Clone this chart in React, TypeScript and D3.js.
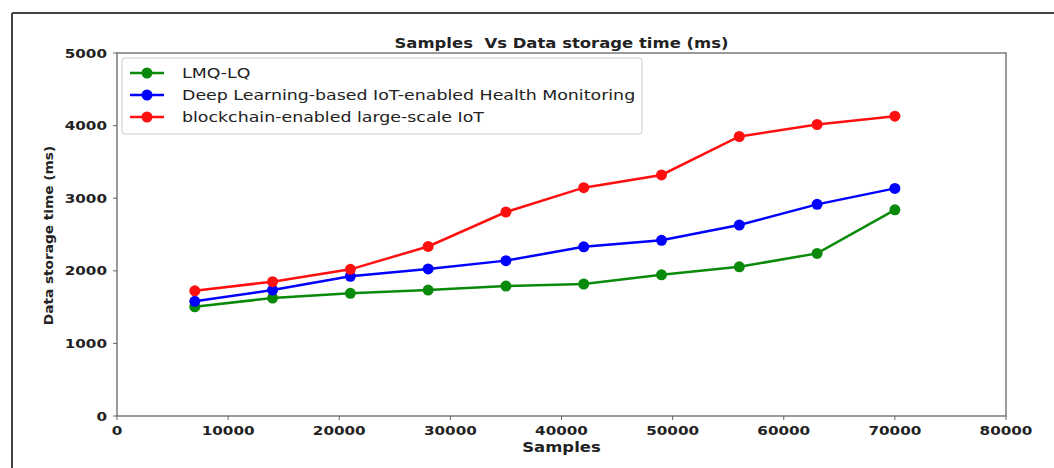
import React from "react";
import * as d3 from "d3";

const samples = [7000, 14000, 21000, 28000, 35000, 42000, 49000, 56000, 63000, 70000];
const lmqLq = [1505, 1625, 1690, 1735, 1790, 1818, 1945, 2055, 2240, 2840];
const deepLearning = [1580, 1735, 1925, 2025, 2140, 2330, 2420, 2630, 2915, 3135];
const blockchain = [1725, 1850, 2020, 2335, 2810, 3145, 3320, 3850, 4015, 4130];
const seriesNames = [
  "LMQ-LQ",
  "Deep Learning-based IoT-enabled Health Monitoring",
  "blockchain-enabled large-scale IoT",
];
const seriesColors = ["#0a8a0a", "#0000ff", "#ff1010"];
const xTicks = [0, 10000, 20000, 30000, 40000, 50000, 60000, 70000, 80000];
const yTicks = [0, 1000, 2000, 3000, 4000, 5000];

const W = 1054;
const H = 468;
const M = { left: 117, right: 1006, top: 53, bottom: 416 };

function T(props: {
  x: number;
  y: number;
  sx: number;
  anchor?: string;
  size: number;
  bold?: boolean;
  rotate?: number;
  dy?: string;
  children: React.ReactNode;
}) {
  const { x, y, sx, anchor = "start", size, bold, rotate = 0, dy, children } = props;
  return (
    <text
      transform={`translate(${x},${y}) rotate(${rotate}) scale(${sx},1)`}
      textAnchor={anchor}
      fontSize={size}
      fontWeight={bold ? "bold" : "normal"}
      fill="#222"
      dy={dy}
      style={{ whiteSpace: "pre" }}
    >
      {children}
    </text>
  );
}

export default function App() {
  const x = d3.scaleLinear().domain([0, 80000]).range([M.left, M.right]);
  const y = d3.scaleLinear().domain([0, 5000]).range([M.bottom, M.top]);
  const allSeries = [lmqLq, deepLearning, blockchain];
  const line = d3
    .line<number>()
    .x((_, i) => x(samples[i]))
    .y((d) => y(d));
  const font = "'DejaVu Sans', sans-serif";
  const axisColor = "#666";
  return (
    <svg
      width={W}
      height={H}
      style={{ position: "absolute", left: 0, top: 0, background: "#fff" }}
      fontFamily={font}
    >
      <rect x={0} y={0} width={W} height={H} fill="#fff" />
      {/* outer frame */}
      <line x1={12} y1={13} x2={W} y2={13} stroke="#444" strokeWidth={2} />
      <line x1={12} y1={13} x2={12} y2={H} stroke="#444" strokeWidth={2} />

      {/* title */}
      <T x={(M.left + M.right) / 2} y={48} sx={1.22} anchor="middle" size={13.5} bold>
        {"Samples  Vs Data storage time (ms)"}
      </T>

      {/* axes box */}
      <rect
        x={M.left}
        y={M.top}
        width={M.right - M.left}
        height={M.bottom - M.top}
        fill="none"
        stroke={axisColor}
        strokeWidth={1.3}
      />

      {/* y ticks */}
      {yTicks.map((t) => (
        <g key={"y" + t}>
          <line x1={M.left - 4} x2={M.left} y1={y(t)} y2={y(t)} stroke={axisColor} />
          <T x={M.left - 10} y={y(t)} dy="0.35em" anchor="end" sx={1.17} size={13} bold>
            {String(t)}
          </T>
        </g>
      ))}
      {/* x ticks */}
      {xTicks.map((t) => (
        <g key={"x" + t}>
          <line x1={x(t)} x2={x(t)} y1={M.bottom} y2={M.bottom + 4} stroke={axisColor} />
          <T x={x(t)} y={M.bottom + 19} anchor="middle" sx={1.17} size={13} bold>
            {String(t)}
          </T>
        </g>
      ))}

      {/* axis labels */}
      <T x={(M.left + M.right) / 2} y={452} anchor="middle" sx={1.22} size={13.5} bold>
        Samples
      </T>
      <T x={53} y={(M.top + M.bottom) / 2 + 1} rotate={-90} anchor="middle" sx={1.14} size={12} bold>
        Data storage time (ms)
      </T>

      {/* series */}
      {allSeries.map((vals, si) => (
        <g key={"s" + si}>
          <path d={line(vals) || ""} fill="none" stroke={seriesColors[si]} strokeWidth={2.5} />
          {vals.map((v, i) => (
            <circle key={i} cx={x(samples[i])} cy={y(v)} r={5.5} fill={seriesColors[si]} />
          ))}
        </g>
      ))}

      {/* legend */}
      <rect x={122} y={58} width={520} height={76} rx={3} fill="#fff" fillOpacity={0.85} stroke="#ccc" />
      {seriesNames.map((name, i) => {
        const ly = 73 + i * 22;
        return (
          <g key={"l" + i}>
            <line x1={130} x2={164} y1={ly} y2={ly} stroke={seriesColors[i]} strokeWidth={2.5} />
            <circle cx={147} cy={ly} r={5.5} fill={seriesColors[i]} />
            <T x={182} y={ly} dy="0.35em" sx={1.2} size={14.5}>
              {name}
            </T>
          </g>
        );
      })}
    </svg>
  );
}
